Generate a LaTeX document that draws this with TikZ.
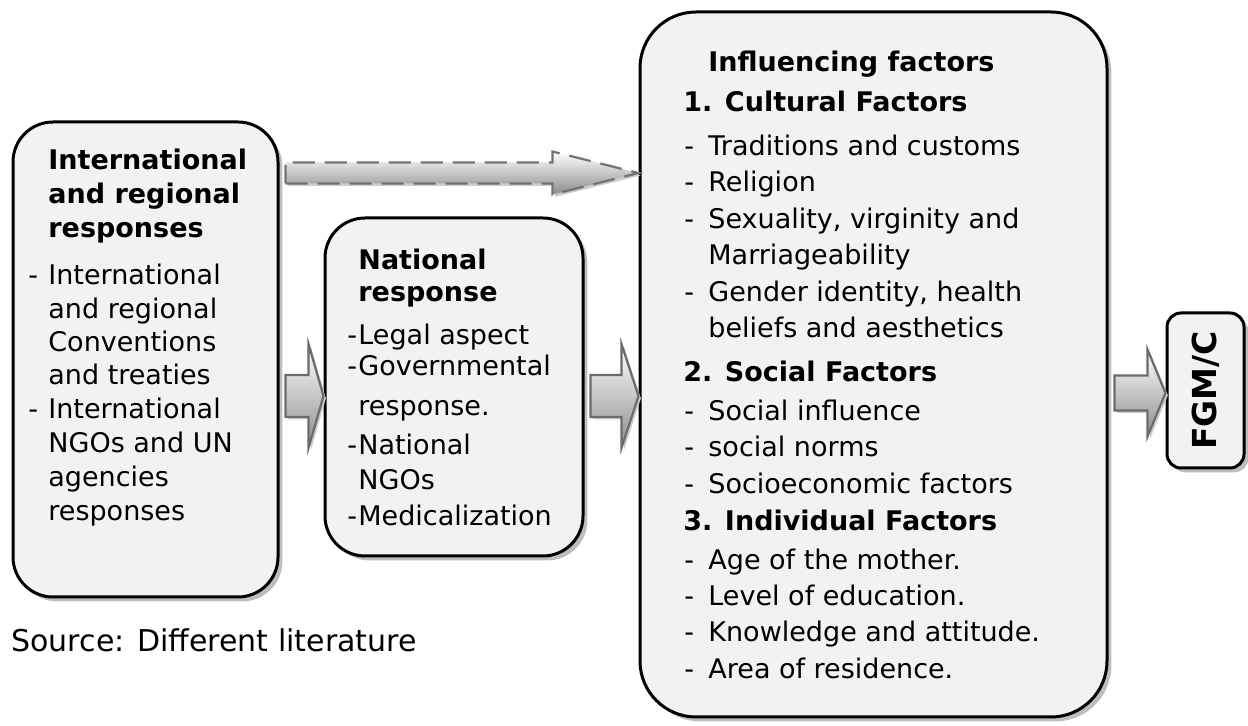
\documentclass[tikz,border=0pt]{standalone}
\usepackage{fontspec}
\setmainfont{DejaVu Sans}
\usetikzlibrary{calc,shadows}

\definecolor{boxgray}{HTML}{F2F2F2}
\definecolor{shadowgray}{HTML}{BDBDBD}
\definecolor{arrowline}{HTML}{6B6B6B}

% hanging dash in front of a list item
\newcommand{\itm}[1]{\makebox[#1][l]{-}}
% fat block arrow from one box to the next, at the height of a row coordinate
\newcommand{\fatarrow}[7][]{%
  \draw[fatarr,#1] ($(#2.east |- #4)+(6,#5)$) -- ($(#3.west |- #4)+(-#7,#5)$)
    -- ($(#3.west |- #4)+(-#7,#6)$) -- (#3.west |- #4)
    -- ($(#3.west |- #4)+(-#7,-#6)$) -- ($(#3.west |- #4)+(-#7,-#5)$)
    -- ($(#2.east |- #4)+(6,-#5)$) -- cycle;}

\begin{document}
\begin{tikzpicture}[x=0.5pt, y=-0.5pt,
    panel/.style={rectangle, draw=black, line width=1.5pt, fill=boxgray,
                  drop shadow={shadow xshift=2.2pt, shadow yshift=-2.2pt,
                               fill=shadowgray, opacity=1}},
    txt/.style={anchor=base west, inner sep=0pt, font=\fontsize{13.5}{16}\selectfont},
    boldtxt/.style={txt, font=\fontsize{13.5}{16}\selectfont\bfseries},
    fatarr/.style={draw=arrowline, line width=1.1pt, top color=white, bottom color=black!45,
                   drop shadow={shadow xshift=1.2pt, shadow yshift=-1.2pt,
                                fill=black!20, opacity=1}},
    dasharr/.style={draw=black!55, dash pattern=on 11pt off 5pt}
  ]
  \useasboundingbox (0,0) rectangle (1248,726);

  % boxes
  \node[panel, minimum width=132.5pt, minimum height=237.5pt, rounded corners=20pt] (intl) at (145.5,359.5) {};
  \node[panel, minimum width=129pt,   minimum height=169pt,   rounded corners=20pt] (natl) at (454,387) {};
  \node[panel, minimum width=233.5pt, minimum height=352.5pt, rounded corners=28pt] (infl) at (873.5,364.5) {};
  \node[panel, minimum width=38.5pt,  minimum height=77.5pt,  rounded corners=7pt]  (fgm)  at (1205.5,390.5) {};
  \node[rotate=90, inner sep=0pt, font=\fontsize{16.5}{18}\selectfont\bfseries] (fgmtext) at (fgm.center) {FGM/C};

  % arrows
  \coordinate (dashrow) at (0,173);
  \coordinate (midrow)  at (0,396);
  \coordinate (fgmrow)  at (0,393);
  \fatarrow[dasharr]{intl}{infl}{dashrow}{10.5}{21.5}{86}
  \fatarrow{intl}{natl}{midrow}{21}{52}{15}
  \fatarrow{natl}{infl}{midrow}{21}{52}{17}
  \fatarrow{infl}{fgm}{fgmrow}{17.5}{43.5}{18}

  % international and regional
  \foreach \n/\yy/\lbl in {1/170/International, 2/204/and regional, 3/238/responses}
    \node[boldtxt] (intlh\n) at (48,\yy) {\lbl};
  \foreach \n/\xx/\yy/\lbl in {1/28/285/\itm{10pt}International, 2/48/319/and regional,
                               3/48/352/Conventions, 4/48/385/and treaties,
                               5/28/419/\itm{10pt}International, 6/48/453/NGOs and UN,
                               7/48/487/agencies, 8/48/521/responses}
    \node[txt] (intl\n) at (\xx,\yy) {\lbl};

  % national
  \node[boldtxt] (natlh1) at (358,270) {National};
  \node[boldtxt] (natlh2) at (358,302) {response};
  \foreach \n/\xx/\yy/\lbl in {1/347/345/\itm{5.5pt}Legal aspect, 2/347/376/\itm{5.5pt}Governmental,
                               3/358/416/response., 4/347/455/\itm{5.5pt}National,
                               5/358/490/NGOs, 6/347/526/\itm{5.5pt}Medicalization}
    \node[txt] (natl\n) at (\xx,\yy) {\lbl};

  % influencing factors
  \node[boldtxt] (inflh) at (708,72) {Influencing factors};
  \node[boldtxt] (cult) at (683,112) {1. Cultural Factors};
  \node[boldtxt] (soc)  at (683,382) {2. Social Factors};
  \node[boldtxt] (indv) at (683,531) {3. Individual Factors};
  \foreach \n/\xx/\yy/\lbl in {{1/684/156/\itm{12pt}Traditions and customs},
                               {2/684/192/\itm{12pt}Religion},
                               {3/684/229/\itm{12pt}Sexuality, virginity and},
                               {4/708/265/Marriageability},
                               {5/684/302/\itm{12pt}Gender identity, health},
                               {6/708/338/beliefs and aesthetics},
                               {7/684/421/\itm{12pt}Social influence},
                               {8/684/457/\itm{12pt}social norms},
                               {9/684/494/\itm{12pt}Socioeconomic factors},
                               {10/684/570/\itm{12pt}Age of the mother.},
                               {11/684/606/\itm{12pt}Level of education.},
                               {12/684/642/\itm{12pt}Knowledge and attitude.},
                               {13/684/679/\itm{12pt}Area of residence.}}
    \node[txt] (infl\n) at (\xx,\yy) {\lbl};

  \node[txt, font=\fontsize{15}{18}\selectfont] (src) at (11,652) {Source: Different literature};
\end{tikzpicture}
\end{document}
